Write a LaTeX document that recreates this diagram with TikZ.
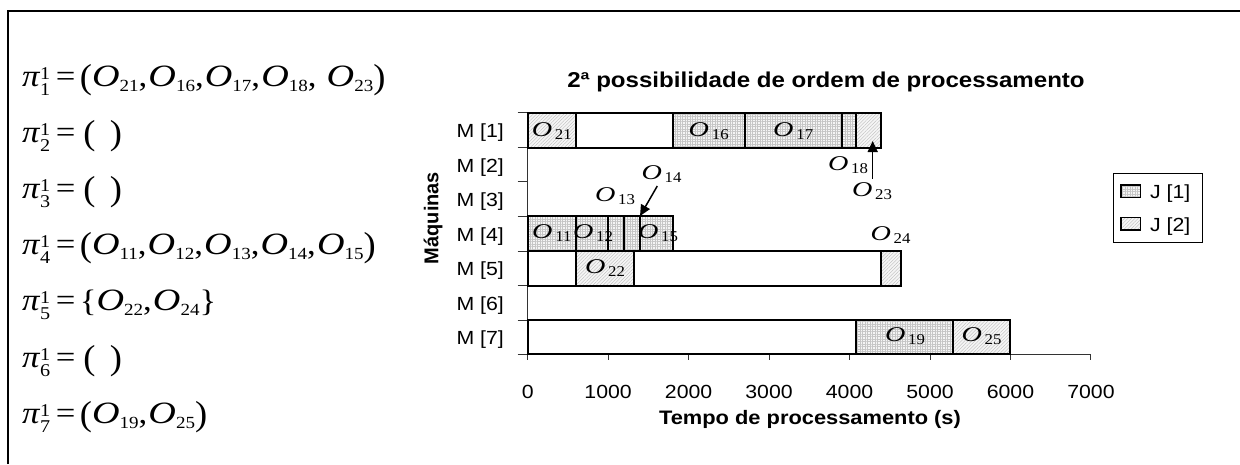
\documentclass[tikz,border=0pt]{standalone}
\usepackage{graphicx}
\usepackage{fontspec}
\setmainfont{Liberation Serif}
\newfontfamily\arialf{Liberation Sans}
\usetikzlibrary{patterns.meta,arrows.meta}
\newcommand\hs[1]{\scalebox{1.12}[1]{#1}}
\newcommand\EqF{\fontsize{31}{31}\selectfont}
\newcommand\PiT[1]{{\itshape π}\kern0.5pt\rlap{\raisebox{7pt}{\fontsize{18}{18}\selectfont 1}}\raisebox{-9pt}{\fontsize{18}{18}\selectfont #1}}
\newcommand\Ob[1]{{\itshape\scalebox{1.1}[1]{O}}\raisebox{-5pt}{\fontsize{17}{17}\selectfont #1}}
\newcommand\EQ{\kern5pt=\kern4pt}
\newcommand\Cm{,\kern1pt}
\newcommand\Lp{\raisebox{-2pt}{\scalebox{1.05}[1.12]{(}}}
\newcommand\Rp{\raisebox{-2pt}{\scalebox{1.05}[1.12]{)}}}
\newcommand\Ol[1]{{\itshape\scalebox{1.2}[1]{O}}\kern2.5pt\raisebox{-3pt}{\fontsize{15}{15}\selectfont #1}}
\tikzset{
  eq/.style={anchor=base west,inner sep=0pt,font=\EqF},
  olab/.style={anchor=base,inner sep=0pt,font=\fontsize{21}{21}\selectfont},
  arl/.style={inner sep=0pt,font=\arialf\fontsize{19}{19}\selectfont},
  arb/.style={inner sep=0pt,font=\arialf\bfseries\fontsize{19.5}{19.5}\selectfont},
  barline/.style={draw=black,line width=2pt},
  jone/.style={fill=gray!8,postaction={pattern={Hatch[angle=0,distance=2.5pt,line width=0.3pt]},pattern color=gray!45}},
  jtwo/.style={fill=gray!8,postaction={pattern={Lines[angle=45,distance=2.4pt,line width=0.35pt]},pattern color=gray!55}},
  emptybar/.style={fill=white},
  axisline/.style={draw=black!80,line width=1pt},
  arr/.style={line width=1.5pt,-{Triangle[length=11pt,width=10pt]}},
}
\begin{document}
\begin{tikzpicture}[x=1pt,y=-1pt]
\useasboundingbox (0,0) rectangle (1240,464);
% frame (top and left edges only)
\draw[line width=2.3pt] (8,464) -- (8,11) -- (1240,11);
% equations
\node[eq] (eq1) at (22,86) {\hs{\PiT{1}\EQ\Lp\Ob{21}\Cm\Ob{16}\Cm\Ob{17}\Cm\Ob{18}\Cm\kern8pt\Ob{23}\Rp}};
\node[eq] (eq2) at (22,142.2) {\hs{\PiT{2}\EQ\kern3pt\Lp\kern13pt\Rp}};
\node[eq] (eq3) at (22,198.4) {\hs{\PiT{3}\EQ\kern3pt\Lp\kern13pt\Rp}};
\node[eq] (eq4) at (22,254.6) {\hs{\PiT{4}\EQ\Lp\Ob{11}\Cm\Ob{12}\Cm\Ob{13}\Cm\Ob{14}\Cm\Ob{15}\Rp}};
\node[eq] (eq5) at (22,310.8) {\hs{\PiT{5}\EQ\raisebox{-1pt}{\{}\Ob{22}\Cm\Ob{24}\raisebox{-1pt}{\}}}};
\node[eq] (eq6) at (22,367) {\hs{\PiT{6}\EQ\kern3pt\Lp\kern13pt\Rp}};
\node[eq] (eq7) at (22,423.2) {\hs{\PiT{7}\EQ\Lp\Ob{19}\Cm\Ob{25}\Rp}};
% title
\node[anchor=base,inner sep=0pt,font=\arialf\bfseries\fontsize{21.5}{21.5}\selectfont] (title) at (826,87) {\hs{2ª possibilidade de ordem de processamento}};
% bars: fills
\foreach \xa/\xb/\ya/\yb/\st in {
  527.7/576.0/112.7/147.7/jtwo, 576.0/672.5/112.7/147.7/emptybar, 672.5/744.9/112.7/147.7/jone,
  744.9/841.5/112.7/147.7/jone, 841.5/856.0/112.7/147.7/jone, 856.0/880.9/112.7/147.7/jtwo,
  527.7/576.0/216/251/jone, 576.0/608.2/216/251/jone, 608.2/624.2/216/251/jone,
  624.2/640.3/216/251/jone, 640.3/672.5/216/251/jone,
  527.7/576.0/251/285.7/emptybar, 576.0/633.9/251/285.7/jtwo, 633.9/880.9/251/285.7/emptybar,
  880.9/901.0/251/285.7/jtwo,
  527.7/856.0/320/354/emptybar, 856.0/952.5/320/354/jone, 952.5/1010.4/320/354/jtwo}
  { \path[\st] (\xa,\ya) rectangle (\xb,\yb); }
% axes
\draw[axisline] (527.7,112.7) -- (527.7,354) -- (1090.9,354);
\foreach \yy in {112.7,147.7,181.7,216,251,285.7,320,354}
  { \draw[axisline] (517.5,\yy) -- (527.7,\yy); }
\foreach \i in {0,...,7}
  { \draw[axisline] (527.7+80.46*\i,354) -- (527.7+80.46*\i,359.5); }
% bars: outlines
\foreach \xa/\xb/\ya/\yb in {
  527.7/576.0/112.7/147.7, 576.0/672.5/112.7/147.7, 672.5/744.9/112.7/147.7,
  744.9/841.5/112.7/147.7, 841.5/856.0/112.7/147.7, 856.0/880.9/112.7/147.7,
  527.7/576.0/216/251, 576.0/608.2/216/251, 608.2/624.2/216/251,
  624.2/640.3/216/251, 640.3/672.5/216/251,
  527.7/576.0/251/285.7, 576.0/633.9/251/285.7, 633.9/880.9/251/285.7,
  880.9/901.0/251/285.7,
  527.7/856.0/320/354, 856.0/952.5/320/354, 952.5/1010.4/320/354}
  { \path[barline] (\xa,\ya) rectangle (\xb,\yb); }
% machine labels
\foreach \k/\yy in {1/137.7,2/172.2,3/206.4,4/241,5/275.8,6/310.4,7/344.5}
  { \node[arl,anchor=base east] (m\k) at (504,\yy) {\hs{M [\k]}}; }
\node[font=\arialf\bfseries\fontsize{20}{20}\selectfont,rotate=90,inner sep=0pt] (ylab) at (433,218) {Máquinas};
% x tick labels
\foreach \i/\lab in {0/0,1/1000,2/2000,3/3000,4/4000,5/5000,6/6000,7/7000}
  { \node[arl,anchor=base] (t\i) at (527.7+80.46*\i,398) {\hs{\lab}}; }
\node[arb,anchor=base] (xlab) at (810,424.5) {\hs{Tempo de processamento (s)}};
% operation labels
\node[olab] (o21) at (551.8,136) {\hs{\Ol{21}}};
\node[olab] (o16) at (708.7,136) {\hs{\Ol{16}}};
\node[olab] (o17) at (793.2,136) {\hs{\Ol{17}}};
\node[olab] (o18) at (848,170) {\hs{\Ol{18}}};
\node[olab] (o23) at (872,196.7) {\hs{\Ol{23}}};
\node[olab] (o11) at (551.8,238.5) {\hs{\Ol{11}}};
\node[olab] (o12) at (593,238.5) {\hs{\Ol{12}}};
\node[olab] (o13) at (615,201.7) {\hs{\Ol{13}}};
\node[olab] (o14) at (661.5,179.3) {\hs{\Ol{14}}};
\node[olab] (o15) at (658,238.5) {\hs{\Ol{15}}};
\node[olab] (o22) at (605,273.3) {\hs{\Ol{22}}};
\node[olab] (o24) at (890.5,240) {\hs{\Ol{24}}};
\node[olab] (o19) at (905,341.7) {\hs{\Ol{19}}};
\node[olab] (o25) at (981.5,341.7) {\hs{\Ol{25}}};
% arrows
\coordinate (a23s) at (872.7,178.5);
\coordinate (a23e) at (872.7,141);
\draw[arr] (a23s) -- (a23e);
\coordinate (a14s) at (657.3,186);
\coordinate (a14e) at (640,216);
\draw[arr] (a14s) -- (a14e);
% legend
\node[draw=black,line width=1pt,minimum width=88.3pt,minimum height=69pt,inner sep=0pt] (legend) at (1157.85,208.2) {};
\path[jone] (1121,185) rectangle (1140.7,197.7);
\path[barline,line width=1.5pt] (1121,185) rectangle (1140.7,197.7);
\path[jtwo] (1121,217.7) rectangle (1140.7,230);
\path[barline,line width=1.5pt] (1121,217.7) rectangle (1140.7,230);
\node[arl,anchor=base west] (lj1) at (1150,198.5) {\hs{J [1]}};
\node[arl,anchor=base west] (lj2) at (1150,231) {\hs{J [2]}};
\end{tikzpicture}
\end{document}
